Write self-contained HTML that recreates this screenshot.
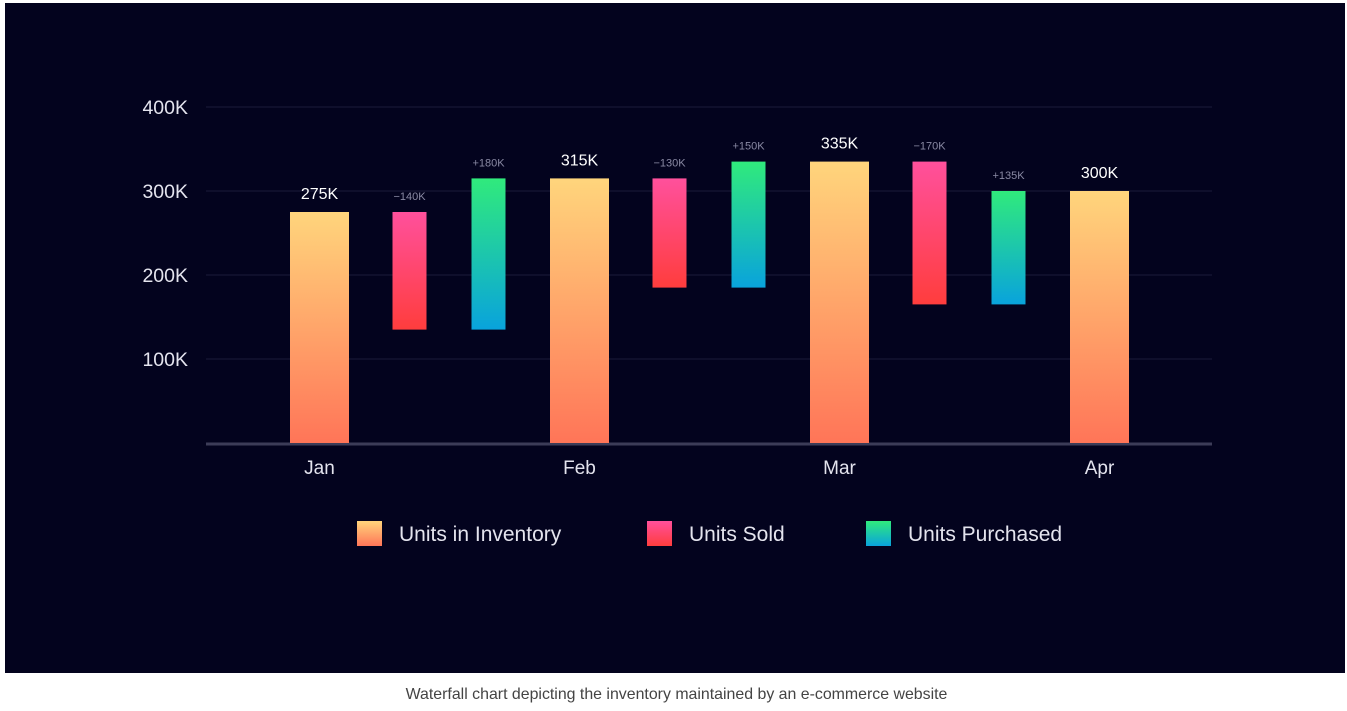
<!DOCTYPE html>
<html><head><meta charset="utf-8"><style>
body{margin:0;width:1347px;height:711px;background:#fff;overflow:hidden;font-family:"Liberation Sans",sans-serif}
#panel{position:absolute;left:5px;top:3px;width:1340px;height:670px;background:#03031e}
#cap{position:absolute;left:0;width:1347px;top:686px;text-align:center;font-size:15.9px;color:#444;padding-left:3px}
svg{position:absolute;left:0;top:0}
</style></head><body>
<div id="panel"></div>
<svg id="chart" width="1347" height="711">
<defs>
<linearGradient id="gInv" x1="0" y1="0" x2="0" y2="1"><stop offset="0" stop-color="#ffd57c"/><stop offset="1" stop-color="#ff7558"/></linearGradient>
<linearGradient id="gSold" x1="0" y1="0" x2="0" y2="1"><stop offset="0" stop-color="#ff509c"/><stop offset="1" stop-color="#ff3d3d"/></linearGradient>
<linearGradient id="gPur" x1="0" y1="0" x2="0" y2="1"><stop offset="0" stop-color="#30ea7c"/><stop offset="1" stop-color="#09a3dc"/></linearGradient>
</defs>
</svg>
<div id="cap">Waterfall chart depicting the inventory maintained by an e-commerce website</div>
<script>
const months=["Jan","Feb","Mar","Apr"];
const inventory=[275,315,335,300];
const sold=[-140,-130,-170];
const purchased=[180,150,135];
const yTicks=[100,200,300,400];
const yTickLabels=["100K","200K","300K","400K"];

const NS="http://www.w3.org/2000/svg";
const svg=document.getElementById('chart');
function y(v){return 443-v*0.84;}
function xm(i){return 319.5+i*260;}
function mk(t,a,p){const e=document.createElementNS(NS,t);for(const k in a)e.setAttribute(k,a[k]);(p||svg).appendChild(e);return e;}
function txt(s,a){const e=mk('text',a);e.textContent=s;return e;}

yTicks.forEach((v,i)=>{
  const l=mk('line',{x1:206,x2:1212,y1:y(v),y2:y(v),stroke:'#1b1b3a','stroke-width':1});
  
  
  const t=txt(yTickLabels[i],{x:188,y:y(v)+7,'text-anchor':'end','font-size':19.5,fill:'#e4e4ee'});
  
  
});
const ax=mk('line',{x1:206,x2:1212,y1:444,y2:444,stroke:'#3c3c58','stroke-width':3});



months.forEach((m,i)=>{
  const cx=xm(i),v=inventory[i];
  const r=mk('rect',{x:cx-29.5,y:y(v),width:59,height:y(0)-y(v),fill:'url(#gInv)'});
  
  
  const t=txt(v+'K',{x:cx,y:y(v)-13,'text-anchor':'middle','font-size':16,fill:'#fff'});
  
  
  const xl=txt(m,{x:cx,y:474,'text-anchor':'middle','font-size':19,fill:'#e4e4ee'});
  
  
  if(i<sold.length){
    const top=v, after=v+sold[i];
    const sx=cx+90;
    const s=mk('rect',{x:sx-17,y:y(top),width:34,height:y(after)-y(top),fill:'url(#gSold)'});
    
    
    const st=txt('\u2212'+Math.abs(sold[i])+'K',{x:sx,y:y(top)-12,'text-anchor':'middle','font-size':11,fill:'#8a8aa4'});
    
    
    const px=cx+169, pend=after+purchased[i];
    const p=mk('rect',{x:px-17,y:y(pend),width:34,height:y(after)-y(pend),fill:'url(#gPur)'});
    
    
    const pt=txt('+'+purchased[i]+'K',{x:px,y:y(pend)-12,'text-anchor':'middle','font-size':11,fill:'#8a8aa4'});
    
    
  }
});

const legend=[["Units in Inventory","url(#gInv)",357],["Units Sold","url(#gSold)",647],["Units Purchased","url(#gPur)",866]];
legend.forEach(l=>{
  const g=mk('g',{});
  
  
  mk('rect',{x:l[2],y:521,width:25,height:25,fill:l[1]},g);
  const t=document.createElementNS(NS,'text');
  t.setAttribute('x',l[2]+42);t.setAttribute('y',541);t.setAttribute('font-size',21);t.setAttribute('fill','#e4e4ee');
  t.textContent=l[0];g.appendChild(t);
});
</script>
</body></html>
